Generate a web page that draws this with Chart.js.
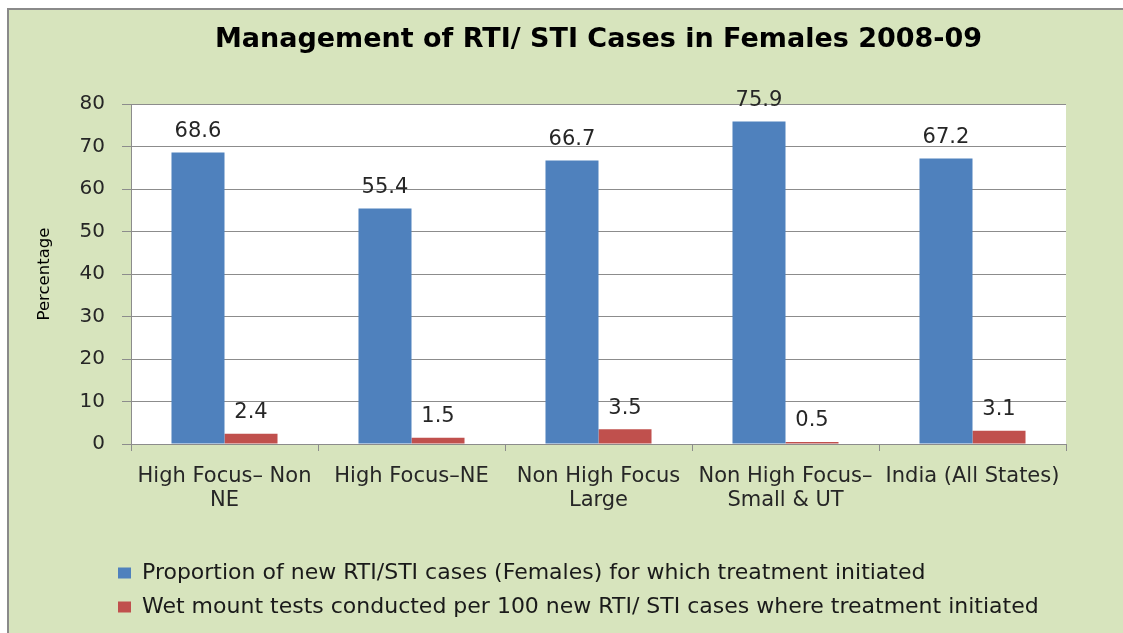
<!DOCTYPE html>
<html>
<head>
<meta charset="utf-8">
<script src="https://cdn.jsdelivr.net/npm/chart.js@4"></script>
<style>
  html, body { margin: 0; padding: 0; background: #ffffff; }
  canvas { display: block; }
</style>
</head>
<body>
<canvas id="c" width="1123" height="633"></canvas>
<script>
const categories = [
  ["High Focus\u2013 Non", "NE"],
  ["High Focus\u2013NE"],
  ["Non High Focus", "Large"],
  ["Non High Focus\u2013", "Small & UT"],
  ["India (All States)"]
];
const seriesNames = [
  "Proportion of new RTI/STI cases (Females) for which treatment initiated",
  "Wet mount tests conducted per 100 new RTI/ STI cases where treatment initiated"
];
const treatmentInitiated = [68.6, 55.4, 66.7, 75.9, 67.2];
const wetMountTests = [2.4, 1.5, 3.5, 0.5, 3.1];
const yTicks = { min: 0, max: 80, step: 10 };
const titleText = "Management of RTI/ STI Cases in Females 2008-09";
const yTitle = "Percentage";

const FONT = "'DejaVu Sans', 'Open Sans', sans-serif";
const GREEN = "#D7E4BD";
const GRID = "#8C8C8C";
const TEXT = "#262626";

const backgroundPlugin = {
  id: 'bg',
  beforeDraw(chart) {
    const { ctx, width, height, chartArea } = chart;
    ctx.save();
    ctx.fillStyle = "#ffffff";
    ctx.fillRect(0, 0, width, height);
    ctx.fillStyle = GREEN;
    ctx.fillRect(8, 9, width - 8, height - 9);
    ctx.strokeStyle = "#8A8A8A";
    ctx.lineWidth = 2;
    ctx.beginPath();
    ctx.moveTo(8, height);
    ctx.lineTo(8, 9);
    ctx.lineTo(width, 9);
    ctx.stroke();
    ctx.fillStyle = "#ffffff";
    ctx.fillRect(chartArea.left, chartArea.top, chartArea.right - chartArea.left, chartArea.bottom - chartArea.top);
    ctx.restore();
  }
};

const legendShiftPlugin = {
  id: 'legendShift',
  afterLayout(chart) {
    chart.legend.left = chart.chartArea.left - 25;
  }
};

const valueLabelPlugin = {
  id: 'valueLabels',
  afterDatasetsDraw(chart) {
    const { ctx } = chart;
    ctx.save();
    ctx.font = "21px " + FONT;
    ctx.fillStyle = TEXT;
    ctx.textAlign = 'center';
    ctx.textBaseline = 'middle';
    chart.data.datasets.forEach((ds, di) => {
      const meta = chart.getDatasetMeta(di);
      meta.data.forEach((bar, i) => {
        ctx.fillText(ds.data[i].toFixed(1), bar.x, bar.y - 21);
      });
    });
    ctx.restore();
  }
};

new Chart(document.getElementById('c'), {
  type: 'bar',
  data: {
    labels: categories,
    datasets: [
      { label: seriesNames[0], data: treatmentInitiated, backgroundColor: "#4F81BD", borderWidth: 0 },
      { label: seriesNames[1], data: wetMountTests, backgroundColor: "#C0504D", borderWidth: 0 }
    ]
  },
  options: {
    responsive: false,
    animation: false,
    devicePixelRatio: 1,
    datasets: { bar: { barPercentage: 1, categoryPercentage: 0.567 } },
    layout: { padding: { left: 10, right: 57, top: 0, bottom: 5 } },
    plugins: {
      title: {
        display: true,
        fullSize: false,
        text: titleText,
        color: "#000000",
        font: { family: FONT, size: 27, weight: 'bold', lineHeight: 1.2 },
        padding: { top: 24, bottom: 47.6 }
      },
      legend: {
        display: true,
        position: 'bottom',
        align: 'start',
        labels: {
          color: "#1a1a1a",
          font: { family: FONT, size: 22 },
          boxWidth: 13,
          boxHeight: 11,
          padding: 12
        }
      },
      tooltip: { enabled: false }
    },
    scales: {
      x: {
        grid: { display: true, drawOnChartArea: false, drawTicks: true, tickLength: 7, color: GRID, offset: true },
        border: { display: true, color: GRID, width: 1 },
        ticks: {
          color: TEXT,
          font: { family: FONT, size: 21, lineHeight: 1.143 },
          padding: 14,
          maxRotation: 0,
          autoSkip: false
        },
        afterFit(scale) { scale.height = 106; }
      },
      y: {
        min: yTicks.min,
        max: yTicks.max,
        grid: { color: GRID, lineWidth: 1, drawTicks: true, tickLength: 9 },
        border: { display: true, color: GRID, width: 1 },
        ticks: {
          stepSize: yTicks.step,
          color: TEXT,
          font: { family: FONT, size: 20 },
          padding: 17
        },
        title: {
          display: true,
          text: yTitle,
          color: "#000000",
          font: { family: FONT, size: 16.5, lineHeight: 1.2 },
          padding: { top: 25, bottom: 0 }
        },
        afterFit(scale) { scale.width = 121; }
      }
    }
  },
  plugins: [backgroundPlugin, legendShiftPlugin, valueLabelPlugin]
});
</script>
</body>
</html>
